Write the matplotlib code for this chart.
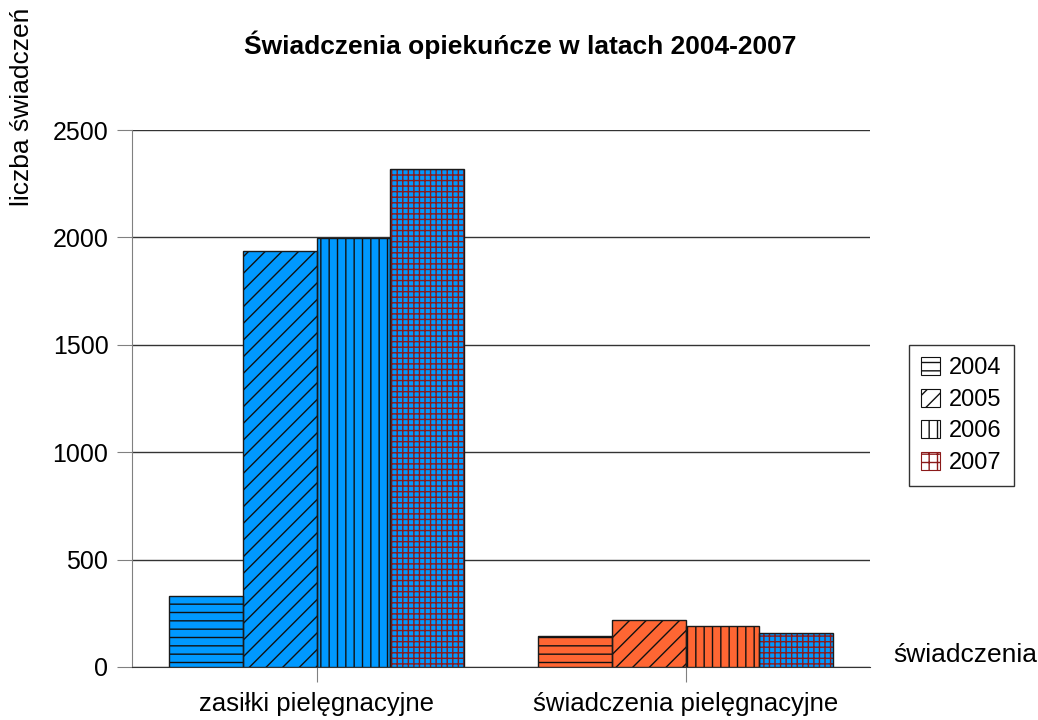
import numpy as np
import matplotlib
matplotlib.use("Agg")
import matplotlib.pyplot as plt
from matplotlib.patches import Patch

plt.rcParams['font.family'] = ['Liberation Sans', 'DejaVu Sans']
plt.rcParams['hatch.linewidth'] = 1.0

# dane
categories = ["zasiłki pielęgnacyjne", "świadczenia pielęgnacyjne"]
years = ["2004", "2005", "2006", "2007"]
values = {
    "2004": [330, 146],
    "2005": [1937, 219],
    "2006": [1998, 191],
    "2007": [2317, 157],
}
hatches = ["--", "//", "||", "+++"]
legend_hatches = ["--", "//", "||", "++"]
group_colors = ["#0099FF", "#FF6633"]
hatch_colors = ["#111111", "#111111", "#111111", "#8B1A1A"]

fig = plt.figure(figsize=(10.38, 7.2), dpi=100)
ax = fig.add_axes([132 / 1038, 1 - 667 / 720, (870 - 132) / 1038, (667 - 130) / 720])

x = np.arange(len(categories))
w = 0.2
for i, yr in enumerate(years):
    pos = x + (i - 1.5) * w
    for j in range(len(categories)):
        # 2007 zawsze niebieski
        fc = group_colors[0] if yr == "2007" else group_colors[j]
        ax.bar(pos[j], values[yr][j], w, color=fc, edgecolor=hatch_colors[i],
               hatch=hatches[i], linewidth=0, zorder=3)
        ax.bar(pos[j], values[yr][j], w, facecolor='none', edgecolor='#1a1a1a',
               linewidth=1.0, zorder=4)

ax.set_xlim(-0.5, 1.5)
ax.set_ylim(0, 2500)
ax.set_yticks([0, 500, 1000, 1500, 2000, 2500])
ax.yaxis.grid(True, color='#333333', linewidth=1.0, zorder=0)
ax.set_axisbelow(True)
ax.set_xticks(x)
ax.set_xticklabels(categories, fontsize=18.5)
ax.tick_params(axis='y', labelsize=18, length=11, color='#808080', pad=6)
ax.tick_params(axis='x', length=11, color='#808080', pad=7)
for s in ['top', 'right']:
    ax.spines[s].set_visible(False)
ax.spines['left'].set_color('#808080')
ax.spines['bottom'].set_color('#333333')

fig.text(520 / 1038, 1 - 45 / 720, "Świadczenia opiekuńcze w latach 2004-2007",
         ha='center', va='center', fontsize=19, fontweight='bold')
fig.text(22 / 1038, 1 - 206 / 720, "liczba świadczeń", rotation=90,
         ha='center', va='bottom', fontsize=19)
fig.text(893 / 1038, 1 - 655 / 720, "świadczenia", ha='left', va='center', fontsize=19)

handles = [Patch(facecolor='white', edgecolor=hatch_colors[i], hatch=legend_hatches[i],
                 linewidth=0.8) for i in range(4)]
leg = fig.legend(handles, years, loc='center', bbox_to_anchor=(961.5 / 1038, 1 - 415.5 / 720),
                 fontsize=17, frameon=True, fancybox=False, edgecolor='black',
                 handlelength=0.8, handleheight=0.8, handletextpad=0.4,
                 labelspacing=0.4, borderpad=0.5, borderaxespad=0)
leg.get_frame().set_linewidth(1.0)

fig.savefig("out.png", dpi=100)
